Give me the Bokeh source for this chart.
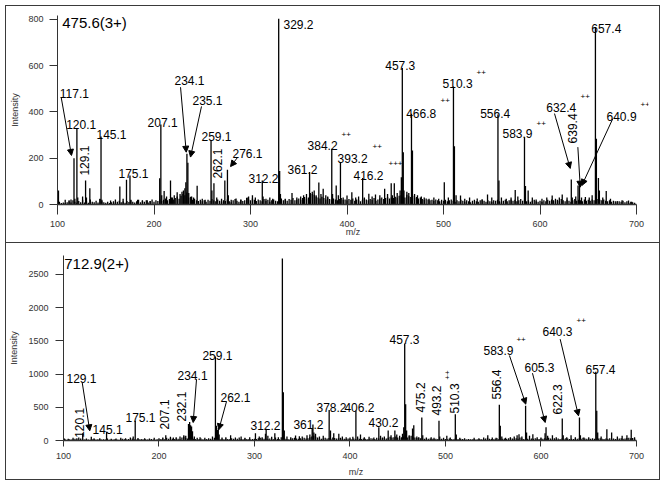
from bokeh.plotting import figure
from bokeh.models import Range1d, Label, Arrow, NormalHead, FixedTicker
from bokeh.embed import file_html
from bokeh.resources import INLINE
import math

FONT = "Liberation Sans"

# ---------------- data: top spectrum (precursor 475.6, 3+) ----------------
top_title = "475.6(3+)"
top_mz = [101.0, 108, 112, 114, 117.1, 118, 120.1, 121, 126, 129.1, 130, 133.5, 144, 145.1, 146,
          155, 160, 164.6, 168, 171.5, 175.1, 176, 183, 188, 193, 196, 205.9, 207.1, 208, 210.5,
          213, 217.1, 219, 221, 224, 227, 229, 230.5, 232, 233, 234.1, 235.1, 236, 239, 241, 244.7,
          250, 253, 259.1, 260, 262.1, 265, 270, 273.4, 276.1, 277, 280, 285, 290, 296.5, 298, 302,
          305, 312.2, 313, 316, 320, 323, 329.2, 330.2, 331, 336, 343, 348, 352, 355, 358, 361.2,
          362, 364, 366, 368, 370.8, 373, 375.3, 378, 380, 384.2, 385, 388.8, 391, 393.2, 396, 400,
          405, 409, 412, 416.2, 418, 422.6, 426, 429.5, 434, 439, 442, 445.8, 447, 449, 452, 455,
          456.3, 457.3, 458.3, 459, 462, 464, 466.8, 467.8, 470, 473, 477, 480, 485, 490, 495,
          500.8, 505, 510.3, 511.3, 513, 517.6, 522, 527, 534.9, 540, 545.6, 550, 556.4, 557.4,
          560, 565, 570, 574.3, 577, 583.9, 584.9, 587.7, 592, 596, 602, 607, 612.6, 616, 620, 623,
          628, 632.4, 633.4, 637, 639.4, 640.9, 643, 647, 651, 654, 657.4, 658.4, 660.5, 661.5,
          665, 668.6, 673, 680, 685, 691.7, 695]
top_int = [60, 20, 18, 22, 200, 25, 327, 30, 35, 104, 30, 70, 25, 294, 20,
           17, 22, 78, 25, 107, 125, 20, 20, 18, 18, 15, 114, 346, 40, 58,
           35, 104, 30, 40, 53, 45, 55, 60, 70, 96, 219, 180, 50, 35, 30, 81,
           25, 20, 277, 60, 92, 30, 25, 104, 150, 40, 20, 26, 22, 30, 35, 40,
           30, 104, 35, 25, 30, 25, 803, 145, 45, 25, 50, 30, 35, 40, 45, 140,
           50, 55, 60, 40, 95, 45, 68, 40, 35, 241, 45, 82, 40, 183, 30, 39,
           53, 30, 35, 115, 30, 47, 35, 43, 40, 68, 45, 92, 40, 92, 50, 60,
           118, 590, 226, 60, 55, 50, 392, 233, 45, 40, 35, 30, 25, 30, 25,
           96, 30, 510, 252, 40, 39, 25, 30, 26, 22, 43, 30, 389, 104,
           30, 25, 30, 63, 35, 291, 80, 60, 30, 22, 25, 30, 39, 25, 30, 43,
           30, 108, 30, 35, 82, 96, 30, 32, 30, 40, 767, 284, 115, 60,
           30, 58, 25, 15, 18, 17, 12]
# baseline noise, sampled every 2 m/z from 100
top_noise = [8, 12, 6, 9, 7, 10, 14, 9, 18, 12, 8, 15, 10, 20, 9, 14, 8, 22, 12, 10, 16, 9, 24, 14, 10,
             8, 12, 7, 10, 14, 9, 12, 16, 10, 13, 8, 15, 11, 18, 12, 9, 14, 20, 10, 16, 12, 18, 9, 14, 22,
             12, 18, 15, 22, 16, 20, 26, 18, 24, 30, 22, 28, 35, 25, 38, 45, 40, 52, 30, 34, 20, 25, 18, 15, 20,
             14, 18, 12, 20, 16, 24, 18, 14, 22, 16, 12, 18, 15, 22, 14, 10, 18, 24, 16, 12, 20, 15, 18, 28, 22,
             18, 26, 20, 15, 22, 18, 14, 24, 16, 20, 12, 18, 22, 16, 14, 20, 26, 18, 22, 16, 24, 20, 28, 18, 22,
             26, 20, 28, 32, 25, 30, 38, 45, 42, 35, 30, 26, 34, 28, 22, 30, 24, 20, 26, 22, 18, 24, 28, 20, 22,
             18, 24, 20, 26, 16, 22, 18, 14, 20, 26, 22, 18, 24, 20, 28, 16, 22, 26, 30, 24, 28, 32, 26, 30, 28,
             34, 30, 38, 40, 35, 30, 42, 36, 32, 38, 28, 32, 26, 30, 24, 20, 26, 22, 18, 20, 16, 22, 18, 14, 20,
             16, 20, 14, 18, 22, 16, 12, 18, 14, 20, 16, 12, 18, 14, 10, 16, 20, 14, 12, 18, 22, 16, 12, 18, 14,
             12, 18, 16, 20, 14, 10, 16, 20, 14, 18, 22, 16, 20, 14, 18, 24, 16, 20, 14, 18, 12, 16, 20, 14, 12,
             16, 12, 18, 14, 20, 16, 22, 18, 14, 20, 16, 24, 18, 14, 20, 16, 12, 18, 24, 16, 20, 18, 14, 22, 16,
             20, 16, 22, 18, 26, 24, 20, 18, 22, 16, 14, 18, 12, 16, 14, 10, 14, 12, 16, 10, 14, 8, 12, 10, 8]
top_yticks = [0, 200, 400, 600, 800]

# labels: text, x (m/z), y (intensity), rotated?
top_labels = [("117.1", 102.4, 480, 0), ("120.1", 109.0, 346, 0), ("129.1", 128.0, 125, 1),
              ("145.1", 140.4, 303, 0), ("175.1", 163.2, 134, 0), ("207.1", 193.3, 355, 0),
              ("234.1", 221.2, 536, 0), ("235.1", 239.9, 450, 0), ("259.1", 249.2, 294, 0),
              ("262.1", 266.3, 112, 1), ("276.1", 281.3, 221, 0), ("312.2", 297.9, 112, 0),
              ("329.2", 334.2, 778, 0), ("361.2", 338.3, 151, 0), ("384.2", 359.1, 255, 0),
              ("393.2", 390.2, 199, 0), ("416.2", 406.7, 125, 0), ("457.3", 439.6, 601, 0),
              ("466.8", 461.3, 393, 0), ("510.3", 499.0, 523, 0), ("556.4", 538.0, 393, 0),
              ("583.9", 561.1, 307, 0), ("632.4", 606.4, 419, 0), ("639.4", 633.7, 264, 1),
              ("640.9", 668.9, 381, 0), ("657.4", 653.1, 761, 0)]
top_charges = [("++", 394.3, 303, 0), ("++", 426.4, 251, 0), ("+++", 443.0, 177, 0),
               ("++", 496.9, 450, 0), ("++", 534.2, 571, 0), ("++", 596.4, 350, 0),
               ("++", 642.0, 467, 0), ("++", 704.1, 432, 0)]
top_arrows = [(103.8, 464, 114.5, 212), (227.5, 507, 233.4, 226), (249.2, 424, 237.8, 205),
              (286.5, 203, 279.3, 164), (615.0, 393, 631.3, 156), (639.2, 248, 641.7, 75),
              (675.4, 371, 643.3, 82)]

# ---------------- data: bottom spectrum (precursor 712.9, 2+) ----------------
bot_title = "712.9(2+)"
bot_mz = [101, 105, 110, 114, 116, 120.1, 124, 129.1, 132, 138, 145.1, 150, 155, 160, 165, 170, 173,
          175.1, 178, 185, 190, 195, 200, 204, 207.1, 212, 215, 218, 222, 226, 228, 230.9, 232.1,
          233.1, 234.1, 235.1, 237, 240, 243, 248, 252, 256, 259.1, 260.1, 261.1, 262.1, 263, 266,
          270, 275, 280, 286, 290, 295, 301, 305, 308, 311.5, 312.2, 314, 318, 321.3, 325, 329.2,
          330.2, 331.2, 334, 338, 343, 347, 350, 355, 358, 360.4, 361.2, 362.2, 363.9, 368, 372,
          378.2, 379.6, 383, 388.3, 392, 396, 400, 403, 406.2, 408, 411, 415, 420, 425, 430.2, 432,
          436, 440, 443, 447, 449, 452, 455, 456.3, 457.3, 458.3, 459.3, 462, 465.5, 466.8, 470, 472,
          475.2, 476.2, 480, 485, 488, 493.2, 494, 498, 501.4, 505, 510.3, 511.3, 515, 520, 530, 535,
          540, 544.3, 549, 553, 556.4, 557.4, 559, 563, 568, 572, 575, 577, 580, 583.9, 584.9, 588,
          591.5, 596, 600, 604.3, 605.3, 607, 612, 616, 622.3, 623.3, 627, 631.5, 636, 640.3, 641.3,
          645, 650, 657.4, 658.4, 659.4, 663, 669, 674, 680, 685, 690, 694.5, 698]
bot_int = [30, 25, 40, 35, 45, 110, 30, 55, 30, 35, 130, 25, 30, 40, 35, 45, 60,
           296, 30, 35, 30, 40, 35, 45, 80, 55, 45, 50, 60, 80, 70, 250, 280,
           230, 210, 140, 60, 40, 50, 40, 35, 60, 1265, 221, 160, 190, 90, 45,
           50, 80, 45, 60, 40, 50, 110, 60, 50, 100, 176, 70, 55, 110, 50, 2741,
           728, 150, 60, 50, 75, 65, 60, 80, 90, 180, 241, 120, 100, 60, 70,
           460, 150, 110, 100, 60, 50, 45, 55, 452, 60, 90, 50, 55, 45, 200, 70,
           60, 150, 80, 150, 90, 70, 100, 200, 1460, 547, 150, 80, 180, 231, 60, 50,
           346, 80, 45, 50, 40, 296, 60, 40, 70, 45, 397, 90, 40, 35, 40, 35,
           45, 80, 45, 40, 537, 221, 60, 40, 50, 60, 80, 95, 60, 522, 120, 70,
           95, 50, 45, 110, 200, 70, 80, 50, 331, 80, 50, 80, 50, 346, 80,
           45, 50, 1034, 447, 120, 60, 171, 120, 60, 70, 80, 161, 50]
bot_noise = [10, 15, 12, 20, 14, 18, 25, 16, 12, 30, 18, 14, 22, 16, 12, 20, 28, 15, 18, 24, 14, 20, 16, 30, 12,
             18, 14, 24, 16, 12, 20, 28, 18, 14, 22, 16, 30, 20, 14, 35, 18, 24, 16, 20, 14, 18, 22, 16, 12, 20,
             16, 24, 30, 20, 40, 25, 35, 28, 22, 30, 26, 20, 45, 60, 38, 30, 24, 20, 28, 22, 16, 24, 30, 20, 18,
             22, 16, 28, 20, 40, 30, 24, 18, 26, 20, 30, 24, 18, 35, 26, 20, 28, 45, 22, 18, 30, 24, 20, 16, 24,
             28, 22, 35, 40, 30, 25, 28, 22, 30, 26, 20, 45, 24, 18, 50, 35, 28, 24, 20, 30, 35, 40, 30, 25, 35,
             28, 40, 30, 35, 50, 60, 70, 55, 45, 35, 28, 32, 40, 30, 36, 28, 45, 38, 30, 35, 40, 32, 28, 24, 30,
             26, 20, 30, 24, 35, 28, 22, 30, 26, 20, 28, 35, 30, 24, 40, 30, 35, 45, 38, 30, 40, 55, 45, 50, 60,
             45, 40, 50, 60, 55, 45, 65, 70, 50, 45, 38, 40, 35, 30, 28, 32, 25, 30, 26, 22, 28, 24, 20, 26, 22,
             24, 20, 30, 24, 18, 26, 22, 20, 28, 24, 20, 16, 24, 20, 18, 22, 16, 20, 24, 18, 22, 30, 40, 28, 22,
             20, 28, 35, 24, 20, 26, 30, 24, 35, 40, 30, 25, 35, 28, 45, 30, 24, 35, 28, 22, 30, 26, 35, 28, 24,
             30, 26, 35, 28, 40, 30, 24, 35, 28, 32, 24, 30, 26, 35, 30, 24, 28, 22, 30, 26, 35, 28, 40, 32, 26,
             30, 26, 35, 28, 24, 30, 35, 28, 24, 30, 26, 35, 28, 32, 24, 28, 30, 34, 26, 30, 36, 40, 34, 38, 30]
bot_yticks = [0, 500, 1000, 1500, 2000, 2500]

bot_labels = [("129.1", 103.1, 934, 0), ("120.1", 116.8, 40, 1), ("145.1", 130.4, 166, 0),
              ("175.1", 164.9, 346, 0), ("207.1", 205.8, 166, 1), ("232.1", 223.6, 286, 1),
              ("234.1", 219.4, 979, 0), ("259.1", 245.5, 1280, 0), ("262.1", 264.4, 648, 0),
              ("312.2", 295.8, 226, 0), ("361.2", 340.8, 241, 0), ("378.2", 364.9, 497, 0),
              ("406.2", 394.2, 497, 0), ("430.2", 419.4, 271, 0), ("457.3", 441.4, 1521, 0),
              ("475.2", 473.5, 422, 1), ("493.2", 490.6, 376, 1), ("510.3", 509.4, 407, 1),
              ("556.4", 553.9, 617, 1), ("583.9", 539.8, 1355, 0), ("605.3", 582.7, 1099, 0),
              ("622.3", 617.8, 392, 1), ("640.3", 601.6, 1642, 0), ("657.4", 646.6, 1069, 0)]
bot_charges = [("++", 502.6, 986, 1), ("++", 574.3, 1521, 0), ("++", 637.2, 1807, 0)]
bot_arrows = [(119.6, 873, 127.5, 146), (239.3, 923, 235.8, 271), (270.7, 587, 262.6, 161),
              (567.0, 1280, 584.1, 547), (591.1, 1014, 604.4, 271), (620.1, 1526, 639.3, 372)]

x_ticks = [100, 200, 300, 400, 500, 600, 700]
noise_start, noise_step = 100, 2

BORDER = "1px solid #3a3a3a"


def panel(title, tpos, mz, inten, noise, yticks, ymax, xmax, labels, charges, arrows,
          height, left, top, bottom, tick_out_x, standoff_x, label_standoff_x,
          ytick_standoff, ylab_standoff, styles):
    p = figure(width=655, height=height, output_backend="svg", toolbar_location=None,
               x_range=Range1d(100, xmax), y_range=Range1d(0, ymax),
               min_border_left=left, min_border_right=13, min_border_top=top,
               min_border_bottom=bottom)
    p.styles = styles
    p.grid.visible = False
    p.outline_line_color = None
    p.background_fill_color = "white"
    p.border_fill_color = "white"

    nmz = [noise_start + noise_step * i for i in range(len(noise))]
    p.segment(x0=nmz, y0=[0] * len(noise), x1=nmz, y1=noise, line_color="black", line_width=1.3)
    p.segment(x0=mz, y0=[0] * len(mz), x1=mz, y1=inten, line_color="black", line_width=1.3)

    for ax in (p.xaxis[0], p.yaxis[0]):
        ax.axis_line_color = "#333333"
        ax.major_tick_line_color = "#333333"
        ax.minor_tick_line_color = None
        ax.major_tick_in = 0
        ax.major_label_text_font = FONT
        ax.major_label_text_font_size = "9px"
        ax.major_label_text_color = "#333333"
        ax.axis_label_text_font = FONT
        ax.axis_label_text_font_size = "9px"
        ax.axis_label_text_font_style = "normal"
        ax.axis_label_text_color = "#333333"
    p.xaxis[0].ticker = FixedTicker(ticks=x_ticks)
    p.xaxis[0].bounds = (x_ticks[0], x_ticks[-1])
    p.xaxis[0].axis_label = "m/z"
    p.xaxis[0].major_tick_out = tick_out_x
    p.xaxis[0].major_label_standoff = standoff_x
    p.xaxis[0].axis_label_standoff = label_standoff_x
    p.xaxis[0].axis_line_width = 1.5
    p.yaxis[0].ticker = FixedTicker(ticks=yticks)
    p.yaxis[0].axis_label = "Intensity"
    p.yaxis[0].major_tick_out = 8
    p.yaxis[0].major_label_standoff = ytick_standoff
    p.yaxis[0].axis_label_standoff = ylab_standoff

    p.add_layout(Label(x=tpos[0], y=tpos[1], text=title, text_font=FONT, text_font_size="15px",
                       text_color="black", text_align="left", text_baseline="alphabetic"))
    for t, x, y, rot in labels:
        p.add_layout(Label(x=x, y=y, text=t, text_font=FONT, text_font_size="12px",
                           text_color="black", text_align="left",
                           text_baseline="middle" if rot else "alphabetic",
                           angle=math.pi / 2 if rot else 0))
    for t, x, y, rot in charges:
        p.add_layout(Label(x=x, y=y, text=t, text_font=FONT, text_font_size="8px",
                           text_color="black", text_align="left" if not rot else "center",
                           text_baseline="middle", angle=math.pi / 2 if rot else 0))
    for x0, y0, x1, y1 in arrows:
        p.add_layout(Arrow(x_start=x0, y_start=y0, x_end=x1, y_end=y1, line_color="black",
                           line_width=1,
                           end=NormalHead(size=6, fill_color="black", line_color="black",
                                          line_width=1)))
    return p


p1 = panel(top_title, (104.9, 788), top_mz, top_int, top_noise, top_yticks, 817, 712.4,
           top_labels, top_charges, top_arrows, height=238, left=51, top=9, bottom=40,
           tick_out_x=10, standoff_x=6, label_standoff_x=-3, ytick_standoff=6, ylab_standoff=5,
           styles={"border": BORDER, "margin-left": "5px", "margin-top": "5px"})
p2 = panel(bot_title, (100.8, 2666), bot_mz, bot_int, bot_noise, bot_yticks, 2786, 712.6,
           bot_labels, bot_charges, bot_arrows, height=237, left=57, top=12, bottom=40,
           tick_out_x=6, standoff_x=6, label_standoff_x=5, ytick_standoff=7, ylab_standoff=6,
           styles={"border": BORDER, "border-top": "none", "margin-left": "5px"})

open("out.html", "w").write(file_html([p1, p2], INLINE))
